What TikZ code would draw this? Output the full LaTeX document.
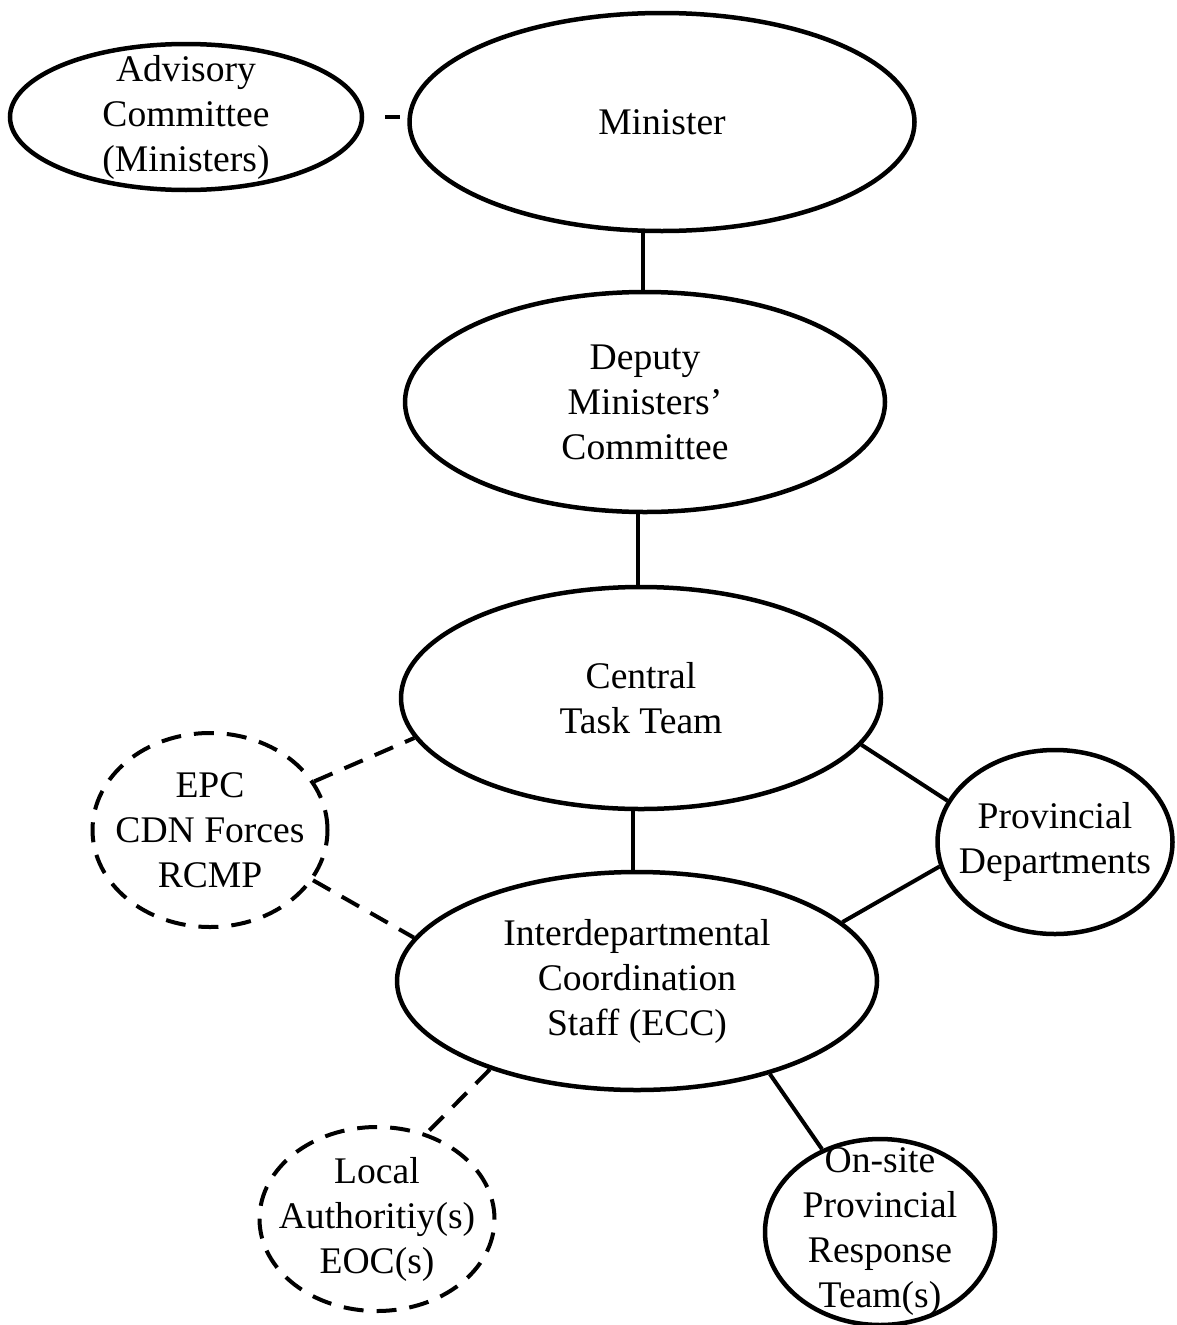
\documentclass[tikz,border=0pt]{standalone}
\usepackage{fontspec}
\setmainfont{Liberation Serif}
\usetikzlibrary{shapes.geometric}
\begin{document}
\begin{tikzpicture}[x=1pt, y=-1pt,
    unit/.style={ellipse, draw, line width=4.5pt, inner sep=-30pt, align=center,
        font=\fontsize{37.6}{45}\selectfont},
    adhoc/.style={unit, line width=4pt, dash pattern=on 20pt off 13pt},
    link/.style={line width=4pt},
    dlink/.style={link, dash pattern=on 20pt off 13pt}]
    \useasboundingbox (0,0) rectangle (1176,1325);
    % ministers
    \node[unit, minimum width=352pt, minimum height=146pt] (adv) at (186,117) {Advisory\\Committee\\(Ministers)};
    \node[unit, minimum width=505pt, minimum height=218pt] (min) at (662,122) {Minister};
    \node[unit, minimum width=480pt, minimum height=220pt] (dep) at (645,402) {Deputy\\Ministers'\\Committee};
    % task team and staff
    \node[unit, minimum width=480pt, minimum height=222pt] (ctt) at (641,698) {Central\\Task Team};
    \node[unit, minimum width=480pt, minimum height=218pt] (ics) at (637,981) {Interdepartmental\\Coordination\\Staff (ECC)};
    \node[adhoc, minimum width=235pt, minimum height=194pt] (epc) at (210,830) {EPC\\CDN Forces\\RCMP};
    \node[unit, minimum width=235pt, minimum height=184pt] (prov) at (1055,842) {Provincial\\Departments};
    % on site
    \node[adhoc, minimum width=235pt, minimum height=184pt] (loc) at (377,1219) {Local\\Authoritiy(s)\\EOC(s)};
    \node[unit, minimum width=230pt, minimum height=186pt] (site) at (880,1232) {On-site\\Provincial\\Response\\Team(s)};

    \draw[link, shorten <=21pt, shorten >=7pt] (adv.east) -- (adv.east -| min.west);
    \draw[link] ([xshift=-2pt]dep.north) -- ([xshift=-2pt]dep.north |- min.south);
    \draw[link] ([xshift=-3pt]ctt.north) -- ([xshift=-3pt]ctt.north |- dep.south);
    \draw[link] ([xshift=-4pt]ics.north) -- ([xshift=-4pt]ics.north |- ctt.south);
    \draw[link] (ctt.-12) -- (prov.159);
    \draw[link] (ics.16) -- (prov.-168);
    \draw[link] (ics.-35) -- (site.125);
    \draw[dlink] (epc.25) -- (ctt.190);
    \draw[dlink] (epc.-26) -- (ics.169);
    \draw[dlink] (ics.-149) -- (loc.60);
\end{tikzpicture}
\end{document}
